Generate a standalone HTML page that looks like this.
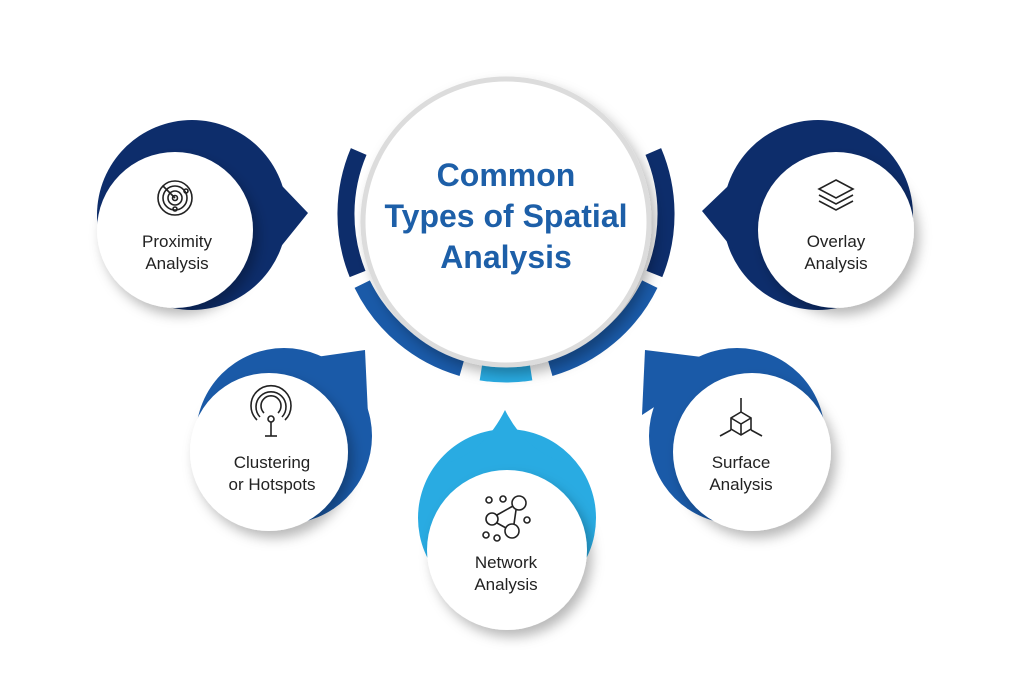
<!DOCTYPE html>
<html><head><meta charset="utf-8"><style>
body{margin:0;background:#fff;}
svg{display:block;}
text{font-family:"Liberation Sans",sans-serif;}
</style></head><body>
<svg width="1024" height="682" viewBox="0 0 1024 682">
<defs>
<filter id="sh" x="-30%" y="-30%" width="170%" height="170%">
<feDropShadow dx="5" dy="7" stdDeviation="6" flood-color="#000" flood-opacity="0.28"/>
</filter>
</defs>
<rect width="1024" height="682" fill="#fff"/>

<g fill="none" stroke-width="17">
<path d="M357.6,274 A160,160 0 0 1 358.7,151.5" stroke="#0d2d6b"/>
<path d="M653.3,151.5 A160,160 0 0 1 654.4,274" stroke="#0d2d6b"/>
<path d="M461.9,367.8 A160,160 0 0 1 362.2,284.1" stroke="#1a5aa8"/>
<path d="M649.8,284.1 A160,160 0 0 1 550.1,367.8" stroke="#1a5aa8"/>
<path d="M531,372 A160,160 0 0 1 481,372" stroke="#29abe2"/>
</g>
<circle cx="506" cy="222" r="143" fill="#fff" stroke="#dcdcdc" stroke-width="5" filter="url(#sh)"/>
<g fill="#1d5fa8" font-weight="bold" font-size="32" text-anchor="middle">
<text x="506" y="186">Common</text>
<text x="506" y="227">Types of Spatial</text>
<text x="506" y="268">Analysis</text>
</g>

<circle cx="192" cy="215" r="95" fill="#0d2d6b"/>
<polygon points="262,165 308,213 262,270" fill="#0d2d6b"/>
<circle cx="175" cy="230" r="78" fill="#fff" filter="url(#sh)"/>
<circle cx="818" cy="215" r="95" fill="#0d2d6b"/>
<polygon points="750,165 702,211 750,270" fill="#0d2d6b"/>
<circle cx="836" cy="230" r="78" fill="#fff" filter="url(#sh)"/>
<circle cx="284" cy="436" r="88" fill="#1a5aa8"/>
<polygon points="295,360 365,350 368,415" fill="#1a5aa8"/>
<circle cx="269" cy="452" r="79" fill="#fff" filter="url(#sh)"/>
<circle cx="737" cy="436" r="88" fill="#1a5aa8"/>
<polygon points="726,360 645,350 642,415" fill="#1a5aa8"/>
<circle cx="752" cy="452" r="79" fill="#fff" filter="url(#sh)"/>
<circle cx="507" cy="518" r="89" fill="#29abe2"/>
<path d="M450,462 Q485,450 505,410 Q525,450 562,462 Z" fill="#29abe2"/>
<circle cx="507" cy="550" r="80" fill="#fff" filter="url(#sh)"/>

<g fill="#222" font-size="17" text-anchor="middle">
<text x="177" y="247">Proximity</text><text x="177" y="269">Analysis</text>
<text x="836" y="247">Overlay</text><text x="836" y="269">Analysis</text>
<text x="272" y="468">Clustering</text><text x="272" y="490">or Hotspots</text>
<text x="741" y="468">Surface</text><text x="741" y="490">Analysis</text>
<text x="506" y="568">Network</text><text x="506" y="590">Analysis</text>
</g>

<g fill="none" stroke="#222" stroke-width="1.6">
<circle cx="175" cy="198" r="17"/><circle cx="175" cy="198" r="12"/><circle cx="175" cy="198" r="7"/><circle cx="175" cy="198" r="2.5"/>
<line x1="175" y1="198" x2="163" y2="186"/><circle cx="186" cy="191" r="2"/><circle cx="175" cy="209" r="2"/>
<path d="M836,180 l17,9 -17,9 -17,-9z"/><path d="M819,195 l17,9 17,-9"/><path d="M819,201 l17,9 17,-9"/>
<circle cx="271" cy="419" r="3"/><path d="M264,413 a10,10 0 1 1 14,0"/><path d="M260,418 a15,15 0 1 1 22,0" transform="translate(0,-1)"/><path d="M257,423 a20,20 0 1 1 28,0" transform="translate(0,-3)"/>
<line x1="271" y1="422" x2="271" y2="436"/><line x1="265" y1="436" x2="277" y2="436"/>
<path d="M741,412 l10,6 0,11 -10,6 -10,-6 0,-11z"/><path d="M731,418 l10,6 10,-6 M741,424 v11"/>
<line x1="741" y1="412" x2="741" y2="398"/><line x1="751" y1="430" x2="762" y2="436"/><line x1="731" y1="430" x2="720" y2="436"/>
<circle cx="492" cy="519" r="6"/><circle cx="519" cy="503" r="7"/><circle cx="512" cy="531" r="7"/>
<circle cx="489" cy="500" r="3"/><circle cx="503" cy="499" r="3"/><circle cx="527" cy="520" r="3"/><circle cx="486" cy="535" r="3"/><circle cx="497" cy="538" r="3"/>
<line x1="497" y1="515" x2="513" y2="506"/><line x1="497" y1="523" x2="506" y2="528"/><line x1="516" y1="510" x2="514" y2="524"/>
</g>
</svg>
</body></html>
